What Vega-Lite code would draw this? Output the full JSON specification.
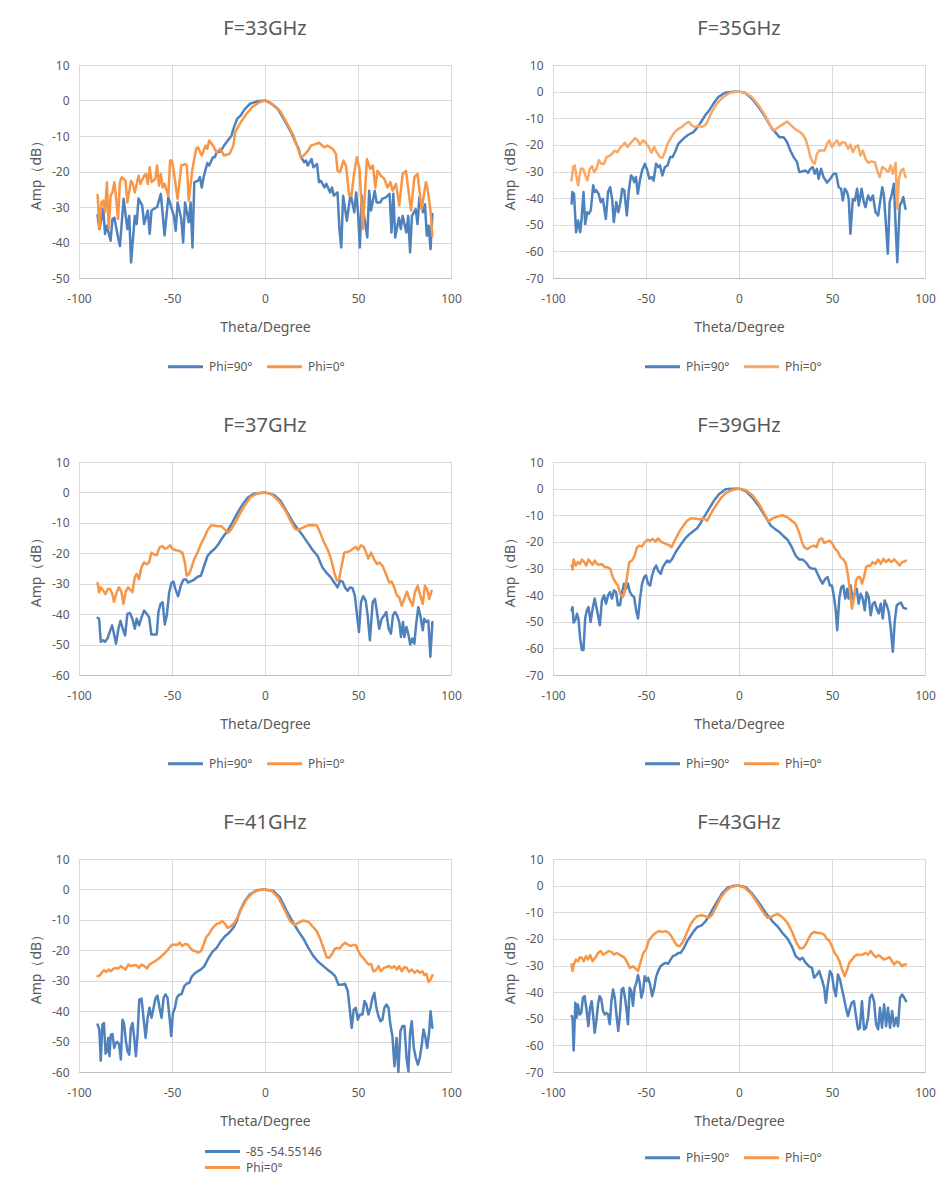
{
  "$schema": "https://vega.github.io/schema/vega-lite/v6.json",
  "background": "white",
  "padding": {"left": 28, "top": 18, "right": 5, "bottom": 5},
  "columns": 2,
  "spacing": {"row": 184, "column": 102},
  "bounds": "flush",
  "datasets": {
    "f33_90": [
      {"theta":-90,"amp":-32.3},{"theta":-89,"amp":-36.2},{"theta":-87,"amp":-30.5},{"theta":-86,"amp":-37.6},{"theta":-85,"amp":-35.3},{"theta":-83,"amp":-39.5},{"theta":-82,"amp":-33.4},{"theta":-81,"amp":-33},{"theta":-79,"amp":-38.6},{"theta":-78,"amp":-41},{"theta":-76,"amp":-27.7},{"theta":-74,"amp":-36.2},{"theta":-73,"amp":-32.5},{"theta":-72,"amp":-45.6},{"theta":-70,"amp":-32.5},{"theta":-69,"amp":-34.8},{"theta":-68,"amp":-27.6},{"theta":-66,"amp":-29.6},{"theta":-65,"amp":-34.8},{"theta":-63,"amp":-31},{"theta":-62,"amp":-37.6},{"theta":-61,"amp":-31},{"theta":-60,"amp":-30.6},{"theta":-58,"amp":-30},{"theta":-56,"amp":-26.3},{"theta":-54,"amp":-38},{"theta":-52,"amp":-27.3},{"theta":-51,"amp":-29},{"theta":-49,"amp":-32.5},{"theta":-48,"amp":-36.7},{"theta":-47,"amp":-28.7},{"theta":-45,"amp":-33.4},{"theta":-44,"amp":-40},{"theta":-43,"amp":-28.7},{"theta":-41,"amp":-34.3},{"theta":-40,"amp":-28.7},{"theta":-39,"amp":-41.4},{"theta":-38,"amp":-23},{"theta":-36,"amp":-22.6},{"theta":-35,"amp":-21.6},{"theta":-34,"amp":-24.5},{"theta":-33,"amp":-21.6},{"theta":-31,"amp":-17.6},{"theta":-30,"amp":-18.3},{"theta":-28,"amp":-16},{"theta":-27,"amp":-16},{"theta":-26,"amp":-14.6},{"theta":-24,"amp":-14.4},{"theta":-22,"amp":-12.7},{"theta":-20,"amp":-11.3},{"theta":-18,"amp":-9.9},{"theta":-17,"amp":-8},{"theta":-15,"amp":-5.2},{"theta":-13,"amp":-4.2},{"theta":-11,"amp":-2.5},{"theta":-8,"amp":-0.9},{"theta":-4,"amp":-0.2},{"theta":0,"amp":0},{"theta":3,"amp":-0.7},{"theta":7,"amp":-2.4},{"theta":10,"amp":-5.2},{"theta":14,"amp":-8.9},{"theta":16,"amp":-11.3},{"theta":18,"amp":-13.5},{"theta":19,"amp":-15.5},{"theta":21,"amp":-17.4},{"theta":22,"amp":-16.9},{"theta":23,"amp":-18.3},{"theta":25,"amp":-16.5},{"theta":26,"amp":-18.8},{"theta":28,"amp":-17.9},{"theta":29,"amp":-23},{"theta":30,"amp":-22.6},{"theta":32,"amp":-24.5},{"theta":33,"amp":-23.5},{"theta":35,"amp":-25.9},{"theta":36,"amp":-24.5},{"theta":37,"amp":-26.8},{"theta":39,"amp":-25.9},{"theta":40,"amp":-36.2},{"theta":41,"amp":-41.4},{"theta":42,"amp":-26.8},{"theta":44,"amp":-33.9},{"theta":45,"amp":-30.1},{"theta":46,"amp":-26.3},{"theta":48,"amp":-31.5},{"theta":49,"amp":-25.9},{"theta":50,"amp":-31.5},{"theta":51,"amp":-41.4},{"theta":52,"amp":-26.8},{"theta":53,"amp":-31.5},{"theta":55,"amp":-38.6},{"theta":56,"amp":-25.4},{"theta":57,"amp":-31},{"theta":59,"amp":-25.4},{"theta":60,"amp":-28.7},{"theta":62,"amp":-28.7},{"theta":63,"amp":-27.7},{"theta":65,"amp":-27.3},{"theta":67,"amp":-26.3},{"theta":68,"amp":-37.2},{"theta":69,"amp":-26.3},{"theta":70,"amp":-38.6},{"theta":72,"amp":-33},{"theta":73,"amp":-36.2},{"theta":74,"amp":-32.5},{"theta":76,"amp":-37.2},{"theta":77,"amp":-32.5},{"theta":78,"amp":-42.8},{"theta":79,"amp":-32.5},{"theta":81,"amp":-30.6},{"theta":82,"amp":-34.8},{"theta":83,"amp":-27.3},{"theta":85,"amp":-31.5},{"theta":86,"amp":-29.2},{"theta":87,"amp":-38.1},{"theta":88,"amp":-35.3},{"theta":89,"amp":-41.9},{"theta":90,"amp":-32}
    ],
    "f33_0": [
      {"theta":-90,"amp":-26.6},{"theta":-89,"amp":-36},{"theta":-88,"amp":-28.7},{"theta":-87,"amp":-28.2},{"theta":-86,"amp":-31.5},{"theta":-85,"amp":-23},{"theta":-84,"amp":-36},{"theta":-83,"amp":-26.8},{"theta":-82,"amp":-25.9},{"theta":-81,"amp":-23},{"theta":-80,"amp":-27.7},{"theta":-79,"amp":-33.4},{"theta":-78,"amp":-23},{"theta":-77,"amp":-21.6},{"theta":-75,"amp":-22.6},{"theta":-74,"amp":-28.7},{"theta":-72,"amp":-22.6},{"theta":-71,"amp":-23.5},{"theta":-70,"amp":-25.9},{"theta":-68,"amp":-21.2},{"theta":-67,"amp":-23.5},{"theta":-65,"amp":-21.2},{"theta":-64,"amp":-20.7},{"theta":-63,"amp":-23.5},{"theta":-62,"amp":-18.8},{"theta":-61,"amp":-23},{"theta":-59,"amp":-22.1},{"theta":-58,"amp":-18.3},{"theta":-57,"amp":-24},{"theta":-56,"amp":-20.7},{"theta":-55,"amp":-24.5},{"theta":-54,"amp":-23.5},{"theta":-52,"amp":-26.8},{"theta":-51,"amp":-16.9},{"theta":-50,"amp":-16.9},{"theta":-49,"amp":-20.2},{"theta":-47,"amp":-27.7},{"theta":-45,"amp":-18.3},{"theta":-43,"amp":-17.9},{"theta":-42,"amp":-18.3},{"theta":-41,"amp":-28.2},{"theta":-39,"amp":-19.3},{"theta":-37,"amp":-13.6},{"theta":-36,"amp":-13.2},{"theta":-34,"amp":-15.5},{"theta":-32,"amp":-12.7},{"theta":-31,"amp":-13.6},{"theta":-30,"amp":-11.3},{"theta":-28,"amp":-12.7},{"theta":-26,"amp":-14.6},{"theta":-24,"amp":-13.6},{"theta":-22,"amp":-15.5},{"theta":-19,"amp":-15},{"theta":-17,"amp":-12.7},{"theta":-16,"amp":-8.9},{"theta":-13,"amp":-6.1},{"theta":-10,"amp":-3.8},{"theta":-7,"amp":-1.9},{"theta":-3,"amp":-0.5},{"theta":0,"amp":0},{"theta":4,"amp":-1.1},{"theta":8.5,"amp":-3.3},{"theta":12,"amp":-6.6},{"theta":15.3,"amp":-9.9},{"theta":17.5,"amp":-13.2},{"theta":19.3,"amp":-16},{"theta":21,"amp":-15.4},{"theta":23.2,"amp":-14.1},{"theta":24.7,"amp":-12.7},{"theta":27.4,"amp":-12.2},{"theta":29.1,"amp":-11.9},{"theta":31.8,"amp":-13.2},{"theta":33.6,"amp":-12.7},{"theta":36.3,"amp":-13.6},{"theta":38.1,"amp":-15},{"theta":39,"amp":-19.8},{"theta":40.4,"amp":-20.2},{"theta":42.2,"amp":-16.9},{"theta":43.5,"amp":-18.3},{"theta":45.3,"amp":-26.8},{"theta":46.5,"amp":-26.8},{"theta":48,"amp":-20.2},{"theta":49.4,"amp":-16},{"theta":50.8,"amp":-19.3},{"theta":52.6,"amp":-36.2},{"theta":54.8,"amp":-16.5},{"theta":56.6,"amp":-19.3},{"theta":58,"amp":-18.3},{"theta":59.3,"amp":-24.5},{"theta":60.5,"amp":-19.8},{"theta":62.3,"amp":-21.2},{"theta":64.1,"amp":-22},{"theta":65.9,"amp":-24.5},{"theta":67.4,"amp":-23},{"theta":68.6,"amp":-25.4},{"theta":70.4,"amp":-23.5},{"theta":72.2,"amp":-29.6},{"theta":74,"amp":-20.7},{"theta":75.8,"amp":-19.8},{"theta":78.5,"amp":-31},{"theta":80.3,"amp":-21.6},{"theta":82,"amp":-20.7},{"theta":84.2,"amp":-30.6},{"theta":86.5,"amp":-23},{"theta":87.4,"amp":-24.9},{"theta":88.9,"amp":-30.6},{"theta":90,"amp":-38.1}
    ],
    "f35_90": [
      {"theta":-90,"amp":-42.1},{"theta":-89.6,"amp":-37.7},{"theta":-88.7,"amp":-38.4},{"theta":-87.6,"amp":-52.8},{"theta":-86.5,"amp":-48.4},{"theta":-85.4,"amp":-52.8},{"theta":-84.7,"amp":-48.4},{"theta":-83.6,"amp":-37.7},{"theta":-82.7,"amp":-49.7},{"theta":-81.6,"amp":-45.3},{"theta":-80.8,"amp":-45.9},{"theta":-79.7,"amp":-44.6},{"theta":-78.4,"amp":-35.2},{"theta":-77.5,"amp":-37.7},{"theta":-76.6,"amp":-37.1},{"theta":-75.5,"amp":-38.4},{"theta":-74.3,"amp":-41.5},{"theta":-73.2,"amp":-40.3},{"theta":-71.6,"amp":-47.8},{"theta":-70.4,"amp":-37.7},{"theta":-69.3,"amp":-35.9},{"theta":-68.2,"amp":-40.3},{"theta":-67.3,"amp":-49},{"theta":-66,"amp":-41.5},{"theta":-64.9,"amp":-45.3},{"theta":-63.9,"amp":-42.1},{"theta":-62.8,"amp":-36.5},{"theta":-61.7,"amp":-37.1},{"theta":-60.3,"amp":-46.5},{"theta":-59.2,"amp":-37.1},{"theta":-58.1,"amp":-31.5},{"theta":-57.2,"amp":-32.1},{"theta":-56.3,"amp":-34},{"theta":-55.4,"amp":-32.1},{"theta":-54.4,"amp":-38.4},{"theta":-53.3,"amp":-33.4},{"theta":-52.1,"amp":-29.6},{"theta":-50.6,"amp":-27.1},{"theta":-49.3,"amp":-29.6},{"theta":-48.2,"amp":-32.7},{"theta":-47,"amp":-32.1},{"theta":-45.9,"amp":-33.4},{"theta":-44.6,"amp":-27.1},{"theta":-43.4,"amp":-28.3},{"theta":-42.5,"amp":-27.7},{"theta":-41.2,"amp":-31.5},{"theta":-39.8,"amp":-28.3},{"theta":-38.4,"amp":-27.7},{"theta":-37,"amp":-24.6},{"theta":-35.7,"amp":-24.6},{"theta":-34.4,"amp":-22.7},{"theta":-32.6,"amp":-19.6},{"theta":-30.8,"amp":-18.3},{"theta":-29,"amp":-17.1},{"theta":-27.2,"amp":-16.2},{"theta":-24.5,"amp":-15.2},{"theta":-22.7,"amp":-13.7},{"theta":-20.4,"amp":-11.4},{"theta":-18.2,"amp":-8.9},{"theta":-16.4,"amp":-7.4},{"theta":-13.7,"amp":-4.5},{"theta":-11.1,"amp":-2},{"theta":-7.5,"amp":-0.4},{"theta":-3,"amp":0},{"theta":0,"amp":0},{"theta":3.3,"amp":-0.4},{"theta":6.9,"amp":-2.6},{"theta":10.5,"amp":-5.8},{"theta":14.1,"amp":-9.5},{"theta":17.7,"amp":-13.9},{"theta":19.5,"amp":-15.2},{"theta":21.7,"amp":-17.1},{"theta":24,"amp":-17.1},{"theta":25.8,"amp":-18.9},{"theta":27.6,"amp":-22.1},{"theta":29.4,"amp":-24.6},{"theta":31.2,"amp":-26.5},{"theta":32.4,"amp":-30.2},{"theta":33.9,"amp":-30},{"theta":35.7,"amp":-29.6},{"theta":37.1,"amp":-30.5},{"theta":38.4,"amp":-29},{"theta":39.6,"amp":-28.3},{"theta":40.7,"amp":-30.8},{"theta":41.9,"amp":-29},{"theta":42.8,"amp":-32.7},{"theta":44.1,"amp":-29},{"theta":45.5,"amp":-32.1},{"theta":47.3,"amp":-34.2},{"theta":49.1,"amp":-32.7},{"theta":50.9,"amp":-30.8},{"theta":52.2,"amp":-30.8},{"theta":53.6,"amp":-35.9},{"theta":54.9,"amp":-36.5},{"theta":55.8,"amp":-40.9},{"theta":56.9,"amp":-36.5},{"theta":58.1,"amp":-37.7},{"theta":59,"amp":-40.3},{"theta":59.9,"amp":-53.4},{"theta":61.2,"amp":-40.3},{"theta":62.3,"amp":-40.9},{"theta":63.5,"amp":-36.5},{"theta":64.4,"amp":-42.8},{"theta":65.9,"amp":-36.5},{"theta":67.1,"amp":-41.5},{"theta":68,"amp":-43.4},{"theta":69.4,"amp":-39},{"theta":70.7,"amp":-40.9},{"theta":72,"amp":-39},{"theta":73.4,"amp":-45.3},{"theta":74.8,"amp":-46.5},{"theta":76.1,"amp":-40.3},{"theta":77,"amp":-35.9},{"theta":77.9,"amp":-39},{"theta":78.8,"amp":-47.8},{"theta":80,"amp":-60.9},{"theta":81,"amp":-41.5},{"theta":82,"amp":-39},{"theta":83.3,"amp":-34.6},{"theta":84.2,"amp":-50.3},{"theta":85.1,"amp":-64.1},{"theta":86.4,"amp":-42.8},{"theta":87.4,"amp":-41.5},{"theta":88.3,"amp":-39.6},{"theta":89.5,"amp":-44}
    ],
    "f35_0": [
      {"theta":-90,"amp":-33.4},{"theta":-89.2,"amp":-28.3},{"theta":-88.3,"amp":-27.7},{"theta":-87.4,"amp":-32.1},{"theta":-86.5,"amp":-35.2},{"theta":-85.1,"amp":-29},{"theta":-83.8,"amp":-29},{"theta":-82.6,"amp":-31.5},{"theta":-81.5,"amp":-33.4},{"theta":-80.2,"amp":-29},{"theta":-79,"amp":-28},{"theta":-77.9,"amp":-30.2},{"theta":-76.6,"amp":-29},{"theta":-75.4,"amp":-25.8},{"theta":-74,"amp":-27.1},{"theta":-72.5,"amp":-27.1},{"theta":-71.2,"amp":-24.6},{"theta":-69.5,"amp":-24},{"theta":-68.2,"amp":-23.3},{"theta":-66.8,"amp":-22.1},{"theta":-65.3,"amp":-22.7},{"theta":-64.1,"amp":-21.2},{"theta":-62.6,"amp":-20.2},{"theta":-61.4,"amp":-19.2},{"theta":-59.9,"amp":-20.8},{"theta":-58.7,"amp":-19.6},{"theta":-57.4,"amp":-18.7},{"theta":-56,"amp":-17.4},{"theta":-54.5,"amp":-18.3},{"theta":-53.3,"amp":-19.9},{"theta":-51.5,"amp":-18.3},{"theta":-50.2,"amp":-19.2},{"theta":-48.8,"amp":-20.4},{"theta":-47,"amp":-22.9},{"theta":-45.6,"amp":-20.8},{"theta":-44.3,"amp":-22.7},{"theta":-42.5,"amp":-24.6},{"theta":-41.2,"amp":-24.9},{"theta":-39.8,"amp":-22.7},{"theta":-38.4,"amp":-19.6},{"theta":-36.6,"amp":-17.4},{"theta":-34.8,"amp":-15.4},{"theta":-33,"amp":-14.2},{"theta":-30.8,"amp":-13.3},{"theta":-28.7,"amp":-12},{"theta":-26.9,"amp":-11.4},{"theta":-25.4,"amp":-12.7},{"theta":-23.6,"amp":-13.3},{"theta":-21.8,"amp":-12.7},{"theta":-20,"amp":-13.3},{"theta":-17.9,"amp":-12.4},{"theta":-16.4,"amp":-10.4},{"theta":-14.6,"amp":-7.6},{"theta":-11.9,"amp":-4.5},{"theta":-8.4,"amp":-2},{"theta":-4.8,"amp":-0.4},{"theta":0,"amp":0},{"theta":3.3,"amp":-0.4},{"theta":6.9,"amp":-2},{"theta":10.5,"amp":-5.1},{"theta":14.1,"amp":-8.9},{"theta":17.3,"amp":-13.3},{"theta":19.1,"amp":-14.5},{"theta":21.3,"amp":-13.3},{"theta":23.4,"amp":-12.4},{"theta":25.8,"amp":-11.2},{"theta":27.6,"amp":-12.4},{"theta":29.9,"amp":-13.9},{"theta":32.1,"amp":-14.9},{"theta":33.9,"amp":-15.8},{"theta":35.7,"amp":-17.7},{"theta":37.1,"amp":-20.8},{"theta":38.4,"amp":-24.6},{"theta":39.6,"amp":-26.5},{"theta":40.7,"amp":-27.1},{"theta":41.9,"amp":-23.3},{"theta":43.2,"amp":-22.1},{"theta":44.6,"amp":-22.1},{"theta":46.1,"amp":-22.1},{"theta":47.3,"amp":-19.6},{"theta":48.6,"amp":-18.3},{"theta":50,"amp":-20.8},{"theta":51.5,"amp":-19.2},{"theta":52.7,"amp":-18.3},{"theta":54,"amp":-20.2},{"theta":55.4,"amp":-19},{"theta":57.2,"amp":-19.2},{"theta":58.7,"amp":-21.4},{"theta":59.9,"amp":-19.9},{"theta":61.2,"amp":-22.7},{"theta":62.6,"amp":-20.8},{"theta":64,"amp":-20.2},{"theta":65.3,"amp":-24},{"theta":66.6,"amp":-22.1},{"theta":68,"amp":-25.2},{"theta":69.4,"amp":-26.7},{"theta":71.2,"amp":-26.2},{"theta":73,"amp":-26.5},{"theta":74.3,"amp":-29.6},{"theta":75.6,"amp":-32.1},{"theta":77,"amp":-28.3},{"theta":78.4,"amp":-29},{"theta":80.2,"amp":-30.2},{"theta":81.5,"amp":-27.7},{"theta":82.7,"amp":-30.8},{"theta":84.2,"amp":-26.7},{"theta":85.1,"amp":-44},{"theta":86,"amp":-32.7},{"theta":87.2,"amp":-29.6},{"theta":88.3,"amp":-29},{"theta":89.6,"amp":-32.1}
    ],
    "f37_90": [
      {"theta":-90,"amp":-41.2},{"theta":-89.2,"amp":-41.5},{"theta":-88.3,"amp":-49.1},{"theta":-87.1,"amp":-48.6},{"theta":-86,"amp":-49.1},{"theta":-84.7,"amp":-48},{"theta":-83.5,"amp":-45.9},{"theta":-82.2,"amp":-43.7},{"theta":-81.4,"amp":-45.9},{"theta":-80.1,"amp":-49.7},{"theta":-78.8,"amp":-44.8},{"theta":-77.7,"amp":-42.2},{"theta":-76.7,"amp":-44.3},{"theta":-75.2,"amp":-47},{"theta":-74,"amp":-39.9},{"theta":-72.6,"amp":-39.6},{"theta":-71.3,"amp":-41.5},{"theta":-70,"amp":-44.8},{"theta":-69,"amp":-41.5},{"theta":-67.7,"amp":-43.7},{"theta":-66.5,"amp":-41.3},{"theta":-65,"amp":-38.8},{"theta":-63.6,"amp":-39.9},{"theta":-62.3,"amp":-41},{"theta":-61.1,"amp":-46.7},{"theta":-59.6,"amp":-46.7},{"theta":-58.2,"amp":-46.7},{"theta":-57.3,"amp":-39.3},{"theta":-56.1,"amp":-36.6},{"theta":-55,"amp":-36.1},{"theta":-53.9,"amp":-43.4},{"theta":-52.8,"amp":-40.4},{"theta":-51.5,"amp":-32.8},{"theta":-50.3,"amp":-29.8},{"theta":-49.2,"amp":-29.3},{"theta":-48.2,"amp":-31.7},{"theta":-46.7,"amp":-34.1},{"theta":-45.3,"amp":-30.7},{"theta":-43.9,"amp":-28.7},{"theta":-42.6,"amp":-28.5},{"theta":-41.4,"amp":-29.6},{"theta":-39.9,"amp":-29.2},{"theta":-38.1,"amp":-28.7},{"theta":-36.3,"amp":-27.7},{"theta":-34.5,"amp":-27.4},{"theta":-32.7,"amp":-24.1},{"theta":-30.9,"amp":-20.9},{"theta":-29.1,"amp":-19.6},{"theta":-27,"amp":-18.5},{"theta":-25.2,"amp":-17.1},{"theta":-22.9,"amp":-14.9},{"theta":-20.2,"amp":-12.7},{"theta":-17.5,"amp":-9.8},{"theta":-14.8,"amp":-6.7},{"theta":-12.1,"amp":-4},{"theta":-9.4,"amp":-1.8},{"theta":-5.8,"amp":-0.4},{"theta":0,"amp":0},{"theta":4.9,"amp":-0.8},{"theta":8.5,"amp":-2.9},{"theta":12.1,"amp":-6.7},{"theta":15.7,"amp":-10.5},{"theta":19.3,"amp":-13.3},{"theta":22.9,"amp":-16.5},{"theta":25.6,"amp":-18.9},{"theta":28.3,"amp":-20.9},{"theta":30.9,"amp":-24.7},{"theta":33.6,"amp":-26.8},{"theta":35.4,"amp":-27.9},{"theta":37.2,"amp":-29.6},{"theta":39,"amp":-31.2},{"theta":40.4,"amp":-29},{"theta":41.7,"amp":-29.3},{"theta":43,"amp":-31.2},{"theta":44.4,"amp":-32.3},{"theta":45.7,"amp":-31.2},{"theta":47.1,"amp":-31.5},{"theta":48.3,"amp":-33.9},{"theta":49.4,"amp":-39.9},{"theta":50.5,"amp":-45.9},{"theta":51.6,"amp":-36.1},{"theta":52.8,"amp":-34.1},{"theta":54.1,"amp":-35.5},{"theta":55.2,"amp":-40.4},{"theta":56.4,"amp":-48.6},{"theta":57.9,"amp":-36.1},{"theta":59.1,"amp":-35},{"theta":60.2,"amp":-39.3},{"theta":61.4,"amp":-44.8},{"theta":62.7,"amp":-41.5},{"theta":64.1,"amp":-40.4},{"theta":65.2,"amp":-39.3},{"theta":66.5,"amp":-44.8},{"theta":67.7,"amp":-46.4},{"theta":68.8,"amp":-40.4},{"theta":69.9,"amp":-39.3},{"theta":71,"amp":-40.4},{"theta":72.2,"amp":-42.6},{"theta":73.1,"amp":-47.5},{"theta":74.2,"amp":-42.6},{"theta":74.9,"amp":-47.5},{"theta":76,"amp":-44.2},{"theta":77,"amp":-46.4},{"theta":78.1,"amp":-50},{"theta":79.2,"amp":-48},{"theta":80.3,"amp":-49.7},{"theta":81.2,"amp":-43.7},{"theta":82.4,"amp":-37.7},{"theta":83.5,"amp":-40.4},{"theta":84.8,"amp":-45.3},{"theta":85.6,"amp":-41.5},{"theta":86.7,"amp":-42.6},{"theta":87.8,"amp":-42.1},{"theta":88.9,"amp":-54},{"theta":90,"amp":-42.6}
    ],
    "f37_0": [
      {"theta":-90,"amp":-29.8},{"theta":-89.2,"amp":-32.8},{"theta":-88.3,"amp":-31.2},{"theta":-86.9,"amp":-32.3},{"theta":-85.8,"amp":-33.4},{"theta":-84.4,"amp":-31.7},{"theta":-83.3,"amp":-31.7},{"theta":-82.1,"amp":-33.4},{"theta":-81.2,"amp":-35.9},{"theta":-79.7,"amp":-32.8},{"theta":-78.5,"amp":-31.2},{"theta":-77.2,"amp":-32.6},{"theta":-76.1,"amp":-36.6},{"theta":-74.9,"amp":-32.6},{"theta":-73.6,"amp":-31.2},{"theta":-72.6,"amp":-31.9},{"theta":-71.3,"amp":-32.8},{"theta":-70,"amp":-27.9},{"theta":-69,"amp":-26.8},{"theta":-67.7,"amp":-28.5},{"theta":-66.5,"amp":-24.7},{"theta":-65,"amp":-23},{"theta":-63.6,"amp":-23.6},{"theta":-62.3,"amp":-23},{"theta":-61.1,"amp":-19.8},{"theta":-59.6,"amp":-20.4},{"theta":-58.2,"amp":-20.7},{"theta":-56.8,"amp":-18.2},{"theta":-55.3,"amp":-17.6},{"theta":-53.9,"amp":-18.5},{"theta":-52.5,"amp":-18.2},{"theta":-51,"amp":-17.4},{"theta":-49.8,"amp":-18.5},{"theta":-48,"amp":-19},{"theta":-46.2,"amp":-19.2},{"theta":-44.4,"amp":-19.8},{"theta":-43.1,"amp":-23},{"theta":-42.1,"amp":-27.4},{"theta":-40.8,"amp":-26.8},{"theta":-39.5,"amp":-24.7},{"theta":-38.1,"amp":-22},{"theta":-36.3,"amp":-19.8},{"theta":-34.5,"amp":-17.1},{"theta":-32.7,"amp":-14.9},{"theta":-30.9,"amp":-12.4},{"theta":-29.1,"amp":-10.9},{"theta":-27.4,"amp":-10.9},{"theta":-25.6,"amp":-11.1},{"theta":-23.4,"amp":-11.1},{"theta":-21.6,"amp":-12.2},{"theta":-19.8,"amp":-13.3},{"theta":-18,"amp":-12},{"theta":-15.7,"amp":-9.5},{"theta":-13,"amp":-6.5},{"theta":-10.3,"amp":-3.7},{"theta":-7.6,"amp":-1.5},{"theta":-4,"amp":-0.3},{"theta":0,"amp":0},{"theta":4,"amp":-0.8},{"theta":7.6,"amp":-2.9},{"theta":11.2,"amp":-6.2},{"theta":13.9,"amp":-9.5},{"theta":16.1,"amp":-12},{"theta":17.8,"amp":-12.4},{"theta":20.2,"amp":-11.6},{"theta":22.9,"amp":-10.9},{"theta":25.6,"amp":-10.7},{"theta":27.9,"amp":-10.9},{"theta":29.7,"amp":-13.3},{"theta":31.8,"amp":-16.5},{"theta":34,"amp":-19.2},{"theta":35.8,"amp":-22.5},{"theta":37.2,"amp":-26.3},{"theta":38.7,"amp":-29},{"theta":39.9,"amp":-28.5},{"theta":41.2,"amp":-24.1},{"theta":42.6,"amp":-19.8},{"theta":44,"amp":-19.6},{"theta":45.8,"amp":-19.2},{"theta":47.3,"amp":-18.5},{"theta":48.9,"amp":-17.9},{"theta":50.1,"amp":-18.9},{"theta":51.6,"amp":-17.4},{"theta":53,"amp":-17.8},{"theta":54.4,"amp":-19.8},{"theta":55.5,"amp":-21.7},{"theta":57,"amp":-19.8},{"theta":58.7,"amp":-22},{"theta":60.2,"amp":-23.6},{"theta":61.4,"amp":-23},{"theta":63.2,"amp":-24.1},{"theta":65,"amp":-26.8},{"theta":66.8,"amp":-29.6},{"theta":68.1,"amp":-29.3},{"theta":69.5,"amp":-31.2},{"theta":70.9,"amp":-33.9},{"theta":72.2,"amp":-34.5},{"theta":73.5,"amp":-37.2},{"theta":74.9,"amp":-35},{"theta":76.3,"amp":-32.6},{"theta":77.6,"amp":-35},{"theta":79.4,"amp":-37.2},{"theta":80.6,"amp":-32.8},{"theta":82.1,"amp":-30.7},{"theta":83.5,"amp":-33.9},{"theta":84.8,"amp":-36.6},{"theta":86,"amp":-30.7},{"theta":87.1,"amp":-31.7},{"theta":88.3,"amp":-35},{"theta":89.6,"amp":-32.3}
    ],
    "f39_90": [
      {"theta":-90,"amp":-45.7},{"theta":-89.5,"amp":-44.5},{"theta":-88.9,"amp":-50.3},{"theta":-88,"amp":-49.4},{"theta":-87.1,"amp":-47},{"theta":-86.3,"amp":-48.8},{"theta":-85.4,"amp":-56.3},{"theta":-84.5,"amp":-60.6},{"theta":-83.6,"amp":-60.6},{"theta":-82.7,"amp":-48.8},{"theta":-81.8,"amp":-45.7},{"theta":-80.9,"amp":-44.5},{"theta":-79.8,"amp":-50.1},{"theta":-78.7,"amp":-45.1},{"theta":-77.6,"amp":-41.3},{"theta":-76.7,"amp":-44.5},{"theta":-75.8,"amp":-47.6},{"theta":-74.8,"amp":-51.3},{"theta":-73.7,"amp":-42},{"theta":-72.6,"amp":-40.1},{"theta":-71.5,"amp":-43.2},{"theta":-70.4,"amp":-40.1},{"theta":-69.4,"amp":-38.9},{"theta":-68.3,"amp":-41.3},{"theta":-67.2,"amp":-38.2},{"theta":-66.1,"amp":-38.9},{"theta":-65.1,"amp":-43.8},{"theta":-64,"amp":-43.8},{"theta":-62.9,"amp":-38.9},{"theta":-61.8,"amp":-35.7},{"theta":-60.7,"amp":-37.6},{"theta":-59.7,"amp":-35.7},{"theta":-58.6,"amp":-38.9},{"theta":-57.5,"amp":-40.1},{"theta":-56.4,"amp":-40.7},{"theta":-55.3,"amp":-45.7},{"theta":-54.3,"amp":-48.8},{"theta":-53.2,"amp":-41.3},{"theta":-52.1,"amp":-35.7},{"theta":-51,"amp":-33.2},{"theta":-50,"amp":-32.6},{"theta":-48.9,"amp":-35.7},{"theta":-47.8,"amp":-36.4},{"theta":-46.7,"amp":-32.6},{"theta":-45.6,"amp":-30.1},{"theta":-44.5,"amp":-28.9},{"theta":-43.5,"amp":-30.8},{"theta":-42,"amp":-32},{"theta":-41,"amp":-29.5},{"theta":-39.9,"amp":-28.3},{"theta":-38.6,"amp":-27},{"theta":-37.4,"amp":-27.6},{"theta":-35.9,"amp":-26.4},{"theta":-34.1,"amp":-23.9},{"theta":-32.3,"amp":-22},{"theta":-30.5,"amp":-20.2},{"theta":-28.4,"amp":-18.3},{"theta":-26.6,"amp":-17.1},{"theta":-24.3,"amp":-15.8},{"theta":-22.5,"amp":-14.9},{"theta":-20.7,"amp":-13},{"theta":-18.9,"amp":-10.8},{"theta":-16.2,"amp":-7.7},{"theta":-13.5,"amp":-4.6},{"theta":-10.8,"amp":-2.1},{"theta":-7.2,"amp":-0.2},{"theta":-3.6,"amp":0},{"theta":0,"amp":0},{"theta":3.6,"amp":-0.9},{"theta":7.2,"amp":-3.4},{"theta":10.8,"amp":-6.7},{"theta":14.4,"amp":-10.8},{"theta":17.1,"amp":-13.9},{"theta":19.8,"amp":-15.4},{"theta":21.9,"amp":-16.4},{"theta":23.7,"amp":-17.7},{"theta":26.1,"amp":-19.2},{"theta":28.4,"amp":-22},{"theta":30.5,"amp":-25.2},{"theta":32.3,"amp":-26.6},{"theta":34.1,"amp":-26.6},{"theta":35.9,"amp":-27.6},{"theta":37.7,"amp":-29.5},{"theta":39.5,"amp":-30.1},{"theta":41,"amp":-30.1},{"theta":42.2,"amp":-32},{"theta":43.5,"amp":-33.9},{"theta":44.9,"amp":-35.7},{"theta":46.4,"amp":-33.9},{"theta":47.6,"amp":-33.2},{"theta":48.9,"amp":-36.4},{"theta":50,"amp":-36.4},{"theta":51.2,"amp":-41.3},{"theta":52.1,"amp":-46.3},{"theta":52.8,"amp":-53.2},{"theta":53.9,"amp":-41.3},{"theta":55,"amp":-37},{"theta":56.1,"amp":-36.4},{"theta":57.1,"amp":-41.3},{"theta":58.2,"amp":-37.6},{"theta":58.9,"amp":-41.3},{"theta":60,"amp":-36.4},{"theta":61.1,"amp":-42},{"theta":62.2,"amp":-39.5},{"theta":63.3,"amp":-37.6},{"theta":64.3,"amp":-43.2},{"theta":65.4,"amp":-39.5},{"theta":66.5,"amp":-41.3},{"theta":67.6,"amp":-45.7},{"theta":68.6,"amp":-38.9},{"theta":69.7,"amp":-40.7},{"theta":70.8,"amp":-47.6},{"theta":71.9,"amp":-43.2},{"theta":73,"amp":-42.6},{"theta":74,"amp":-45.1},{"theta":75.1,"amp":-46.9},{"theta":76.2,"amp":-43.2},{"theta":77.3,"amp":-48.8},{"theta":78.3,"amp":-42},{"theta":79.4,"amp":-43.8},{"theta":80.5,"amp":-46.3},{"theta":81.6,"amp":-52.6},{"theta":82.7,"amp":-61.3},{"theta":83.7,"amp":-50.1},{"theta":84.8,"amp":-43.8},{"theta":85.9,"amp":-43.2},{"theta":87.1,"amp":-42.8},{"theta":88.4,"amp":-44.8},{"theta":89.8,"amp":-45.1}
    ],
    "f39_0": [
      {"theta":-90,"amp":-28.9},{"theta":-89.5,"amp":-30.4},{"theta":-88.9,"amp":-26.6},{"theta":-87.7,"amp":-28.9},{"theta":-86.6,"amp":-27.6},{"theta":-85.5,"amp":-28.3},{"theta":-84.5,"amp":-26.6},{"theta":-83.2,"amp":-27.6},{"theta":-82.1,"amp":-28.9},{"theta":-80.9,"amp":-26.6},{"theta":-79.8,"amp":-27.6},{"theta":-78.7,"amp":-28.6},{"theta":-77.6,"amp":-27},{"theta":-76.4,"amp":-28.3},{"theta":-75.1,"amp":-28.6},{"theta":-73.7,"amp":-28.3},{"theta":-72.2,"amp":-29.5},{"theta":-70.8,"amp":-29.5},{"theta":-69.2,"amp":-30.1},{"theta":-67.9,"amp":-33.2},{"theta":-66.5,"amp":-35.1},{"theta":-65.1,"amp":-36.4},{"theta":-63.8,"amp":-39.5},{"theta":-62.5,"amp":-40.7},{"theta":-61.5,"amp":-38.9},{"theta":-60.2,"amp":-33.2},{"theta":-59,"amp":-27.6},{"theta":-57.5,"amp":-27},{"theta":-56.1,"amp":-25.2},{"theta":-54.8,"amp":-22},{"theta":-53.5,"amp":-21.4},{"theta":-52.1,"amp":-21.7},{"theta":-50.7,"amp":-20.2},{"theta":-49.2,"amp":-19.2},{"theta":-47.8,"amp":-19.6},{"theta":-46.4,"amp":-18.9},{"theta":-44.9,"amp":-19.9},{"theta":-43.5,"amp":-18.7},{"theta":-42,"amp":-19.9},{"theta":-40.6,"amp":-20.4},{"theta":-39.2,"amp":-20.8},{"theta":-37.7,"amp":-21.2},{"theta":-36.3,"amp":-22},{"theta":-34.9,"amp":-19.9},{"theta":-33.2,"amp":-17.7},{"theta":-31.4,"amp":-15.4},{"theta":-29.6,"amp":-13.7},{"theta":-27.9,"amp":-12.1},{"theta":-26.1,"amp":-11.2},{"theta":-23.7,"amp":-11.2},{"theta":-21.6,"amp":-11.5},{"theta":-18.9,"amp":-11.2},{"theta":-17.1,"amp":-12.1},{"theta":-15.3,"amp":-9.6},{"theta":-12.6,"amp":-6.5},{"theta":-9.9,"amp":-3.7},{"theta":-7.2,"amp":-1.7},{"theta":-3.6,"amp":-0.5},{"theta":0,"amp":0},{"theta":3.6,"amp":-0.5},{"theta":7.2,"amp":-2.5},{"theta":10.8,"amp":-5.8},{"theta":13.5,"amp":-9.2},{"theta":15.8,"amp":-12.3},{"theta":18,"amp":-11.2},{"theta":20.7,"amp":-10.5},{"theta":23.4,"amp":-10},{"theta":26.1,"amp":-10.8},{"theta":28.4,"amp":-12.1},{"theta":30.5,"amp":-13.3},{"theta":32.3,"amp":-16.4},{"theta":33.8,"amp":-19.9},{"theta":35,"amp":-22},{"theta":36.8,"amp":-22.7},{"theta":38.6,"amp":-21.8},{"theta":40.4,"amp":-21.4},{"theta":41.7,"amp":-22},{"theta":43.1,"amp":-19.2},{"theta":44.6,"amp":-18.7},{"theta":45.8,"amp":-20.4},{"theta":47.6,"amp":-19.9},{"theta":48.9,"amp":-19.6},{"theta":50.3,"amp":-20.8},{"theta":51.8,"amp":-22.7},{"theta":53.2,"amp":-23.7},{"theta":54.6,"amp":-25.8},{"theta":56.1,"amp":-26.6},{"theta":57.5,"amp":-28.3},{"theta":58.6,"amp":-32.6},{"theta":59.7,"amp":-38.9},{"theta":60.7,"amp":-45.1},{"theta":61.8,"amp":-41.3},{"theta":62.9,"amp":-34.5},{"theta":64,"amp":-33.2},{"theta":65,"amp":-33.2},{"theta":66.1,"amp":-35.7},{"theta":67.2,"amp":-33.2},{"theta":68.3,"amp":-29.5},{"theta":69.4,"amp":-28.9},{"theta":70.4,"amp":-29.1},{"theta":71.9,"amp":-27.6},{"theta":73.3,"amp":-28.3},{"theta":74.8,"amp":-26.6},{"theta":76.2,"amp":-28.3},{"theta":77.6,"amp":-26.4},{"theta":79.1,"amp":-27.6},{"theta":80.5,"amp":-26.6},{"theta":81.9,"amp":-27.6},{"theta":83.4,"amp":-26.6},{"theta":84.8,"amp":-27.6},{"theta":86.3,"amp":-28.9},{"theta":87.7,"amp":-27.6},{"theta":88.9,"amp":-27.4},{"theta":89.8,"amp":-27}
    ],
    "f41_90": [
      {"theta":-90,"amp":-44.4},{"theta":-89.1,"amp":-46},{"theta":-88.3,"amp":-56.3},{"theta":-87.4,"amp":-44.4},{"theta":-86.6,"amp":-43.9},{"theta":-85.7,"amp":-54},{"theta":-85,"amp":-53.2},{"theta":-84.3,"amp":-48.8},{"theta":-83.6,"amp":-54.8},{"theta":-82.9,"amp":-47.7},{"theta":-82,"amp":-47.5},{"theta":-81.1,"amp":-52.1},{"theta":-80.2,"amp":-50.4},{"theta":-79.3,"amp":-50.1},{"theta":-78.4,"amp":-51},{"theta":-77.5,"amp":-55.9},{"theta":-76.6,"amp":-42.8},{"theta":-75.7,"amp":-44.4},{"theta":-74.8,"amp":-49.9},{"theta":-73.9,"amp":-53.2},{"theta":-73,"amp":-54.3},{"theta":-72.1,"amp":-45.5},{"theta":-71.2,"amp":-43.9},{"theta":-70.3,"amp":-48.8},{"theta":-69.4,"amp":-54.8},{"theta":-68.5,"amp":-47.7},{"theta":-67.6,"amp":-36.2},{"theta":-66.4,"amp":-35.9},{"theta":-65.3,"amp":-42.2},{"theta":-64.2,"amp":-48.8},{"theta":-63.1,"amp":-42.2},{"theta":-62.1,"amp":-38.9},{"theta":-61,"amp":-42.2},{"theta":-59.9,"amp":-38.9},{"theta":-58.8,"amp":-35.6},{"theta":-57.8,"amp":-34.9},{"theta":-56.7,"amp":-38.9},{"theta":-55.6,"amp":-42.2},{"theta":-54.5,"amp":-35.6},{"theta":-53.5,"amp":-34.5},{"theta":-52.4,"amp":-35.6},{"theta":-51.3,"amp":-42.2},{"theta":-50.4,"amp":-48.2},{"theta":-49.5,"amp":-40.6},{"theta":-48.4,"amp":-38.9},{"theta":-47.4,"amp":-35.6},{"theta":-46.3,"amp":-34.7},{"theta":-44.8,"amp":-34.3},{"theta":-43.4,"amp":-31.8},{"theta":-42.2,"amp":-31},{"theta":-40.7,"amp":-30.7},{"theta":-39.5,"amp":-28.8},{"theta":-38,"amp":-27.7},{"theta":-36.2,"amp":-26.9},{"theta":-34.4,"amp":-26.3},{"theta":-32.6,"amp":-25.2},{"theta":-30.5,"amp":-22.7},{"theta":-28.3,"amp":-20.5},{"theta":-26,"amp":-19.2},{"theta":-23.7,"amp":-17},{"theta":-21.5,"amp":-15.4},{"theta":-19.4,"amp":-14.3},{"theta":-17,"amp":-12.6},{"theta":-15.2,"amp":-10.4},{"theta":-13.5,"amp":-7.1},{"theta":-10.8,"amp":-3.8},{"theta":-8.1,"amp":-1.6},{"theta":-4.5,"amp":-0.3},{"theta":0,"amp":0},{"theta":4.5,"amp":-0.5},{"theta":8.1,"amp":-2.7},{"theta":11.7,"amp":-7.1},{"theta":15.2,"amp":-11},{"theta":17.9,"amp":-13.7},{"theta":20.6,"amp":-16.1},{"theta":23.3,"amp":-19.2},{"theta":26,"amp":-21.9},{"theta":28.7,"amp":-23.8},{"theta":31.4,"amp":-25.2},{"theta":34.1,"amp":-26.6},{"theta":35.9,"amp":-27.4},{"theta":37.7,"amp":-28.5},{"theta":39.5,"amp":-31.3},{"theta":41.3,"amp":-31.3},{"theta":43,"amp":-31},{"theta":44.5,"amp":-33.4},{"theta":45.6,"amp":-39.5},{"theta":46.6,"amp":-45.5},{"theta":47.7,"amp":-39.5},{"theta":48.8,"amp":-38.9},{"theta":49.9,"amp":-42.8},{"theta":51.1,"amp":-41.1},{"theta":52.4,"amp":-41.1},{"theta":53.5,"amp":-36.7},{"theta":54.5,"amp":-37.8},{"theta":55.6,"amp":-41.1},{"theta":56.7,"amp":-38.9},{"theta":57.8,"amp":-35.6},{"theta":58.8,"amp":-34},{"theta":59.9,"amp":-38.9},{"theta":61,"amp":-41.7},{"theta":62.1,"amp":-43.3},{"theta":63.1,"amp":-42.8},{"theta":64.2,"amp":-38.9},{"theta":65.3,"amp":-37.8},{"theta":66.4,"amp":-38.9},{"theta":67.4,"amp":-44.4},{"theta":68.5,"amp":-48.2},{"theta":69.6,"amp":-58.1},{"theta":70.7,"amp":-48.8},{"theta":71.7,"amp":-60},{"theta":72.8,"amp":-46.6},{"theta":73.9,"amp":-44.9},{"theta":75,"amp":-44.9},{"theta":76.1,"amp":-55.4},{"theta":77.1,"amp":-59.8},{"theta":78,"amp":-47.1},{"theta":78.9,"amp":-43.3},{"theta":80,"amp":-52.1},{"theta":81.1,"amp":-55.4},{"theta":82.2,"amp":-57.6},{"theta":83.2,"amp":-55.4},{"theta":84.3,"amp":-51},{"theta":85.2,"amp":-46},{"theta":86.1,"amp":-48.2},{"theta":87.2,"amp":-52.1},{"theta":88.3,"amp":-46.6},{"theta":89,"amp":-40},{"theta":90,"amp":-45.5}
    ],
    "f41_0": [
      {"theta":-90,"amp":-28.5},{"theta":-88.7,"amp":-28.2},{"theta":-87.5,"amp":-27.1},{"theta":-86.4,"amp":-26.6},{"theta":-85.2,"amp":-27.1},{"theta":-83.9,"amp":-26.3},{"theta":-82.9,"amp":-26.9},{"theta":-81.6,"amp":-26.1},{"theta":-80.4,"amp":-25.8},{"theta":-79,"amp":-26},{"theta":-77.5,"amp":-25.2},{"theta":-76.2,"amp":-25.8},{"theta":-75,"amp":-26.3},{"theta":-73.5,"amp":-24.7},{"theta":-72.1,"amp":-25.2},{"theta":-70.7,"amp":-24.9},{"theta":-69.2,"amp":-24.9},{"theta":-67.8,"amp":-25.8},{"theta":-66.4,"amp":-24.7},{"theta":-64.9,"amp":-25.2},{"theta":-63.5,"amp":-26},{"theta":-62.1,"amp":-24.7},{"theta":-60.6,"amp":-24.1},{"theta":-59.2,"amp":-23.6},{"theta":-57.8,"amp":-23},{"theta":-56.3,"amp":-22.3},{"theta":-54.7,"amp":-21.4},{"theta":-53.3,"amp":-20.5},{"theta":-51.7,"amp":-19.4},{"theta":-50.2,"amp":-18.3},{"theta":-48.8,"amp":-18.1},{"theta":-47.4,"amp":-18.3},{"theta":-45.9,"amp":-17.5},{"theta":-44.5,"amp":-18.6},{"theta":-43,"amp":-17.9},{"theta":-41.6,"amp":-18.1},{"theta":-40.2,"amp":-19.2},{"theta":-38.7,"amp":-20.1},{"theta":-37.3,"amp":-20.3},{"theta":-35.9,"amp":-20.8},{"theta":-34.4,"amp":-20.3},{"theta":-33,"amp":-18.1},{"theta":-31.6,"amp":-15.7},{"theta":-30.1,"amp":-14.6},{"theta":-28.7,"amp":-13.2},{"theta":-27.3,"amp":-12.1},{"theta":-25.8,"amp":-11.3},{"theta":-24.2,"amp":-11},{"theta":-23,"amp":-10.4},{"theta":-21.5,"amp":-11.3},{"theta":-20.1,"amp":-12.6},{"theta":-18.3,"amp":-12.1},{"theta":-16.5,"amp":-11},{"theta":-14.7,"amp":-9.1},{"theta":-12.6,"amp":-6.2},{"theta":-9.9,"amp":-3.3},{"theta":-7.2,"amp":-1.4},{"theta":-3.6,"amp":-0.2},{"theta":0,"amp":0},{"theta":3.6,"amp":-0.5},{"theta":7.2,"amp":-2.7},{"theta":10.8,"amp":-7.1},{"theta":13.5,"amp":-10.4},{"theta":15.8,"amp":-11.7},{"theta":17.9,"amp":-11},{"theta":20.6,"amp":-10.2},{"theta":23.3,"amp":-10.6},{"theta":25.5,"amp":-12.1},{"theta":27.8,"amp":-13.7},{"theta":29.6,"amp":-16.1},{"theta":31.4,"amp":-19.2},{"theta":33.2,"amp":-22.3},{"theta":34.4,"amp":-22.5},{"theta":35.9,"amp":-21.4},{"theta":37.3,"amp":-19.7},{"theta":38.7,"amp":-19.2},{"theta":40.2,"amp":-19.4},{"theta":41.6,"amp":-18.3},{"theta":43,"amp":-17.5},{"theta":44.5,"amp":-18.1},{"theta":45.9,"amp":-18.6},{"theta":47.4,"amp":-18.3},{"theta":48.8,"amp":-18.3},{"theta":50.2,"amp":-20.3},{"theta":51.7,"amp":-21.9},{"theta":52.9,"amp":-22.5},{"theta":54.2,"amp":-23.6},{"theta":55.6,"amp":-24.7},{"theta":57,"amp":-24.5},{"theta":58.3,"amp":-26.9},{"theta":59.6,"amp":-26.6},{"theta":61,"amp":-25.2},{"theta":62.4,"amp":-26.9},{"theta":63.9,"amp":-25.8},{"theta":65.3,"amp":-25.5},{"theta":66.7,"amp":-25.2},{"theta":68.2,"amp":-25.8},{"theta":69.6,"amp":-25.2},{"theta":70.9,"amp":-26.3},{"theta":72.1,"amp":-25.2},{"theta":73.5,"amp":-26.9},{"theta":75,"amp":-25.5},{"theta":76.2,"amp":-25.8},{"theta":77.5,"amp":-27.1},{"theta":78.9,"amp":-26.3},{"theta":80.4,"amp":-27.4},{"theta":81.8,"amp":-26.6},{"theta":83.2,"amp":-27.4},{"theta":84.7,"amp":-26.9},{"theta":85.7,"amp":-28.2},{"theta":86.8,"amp":-27.7},{"theta":87.9,"amp":-30.4},{"theta":89,"amp":-29.6},{"theta":90,"amp":-28.2}
    ],
    "f43_90": [
      {"theta":-90,"amp":-49},{"theta":-89.5,"amp":-49.6},{"theta":-88.9,"amp":-61.9},{"theta":-88,"amp":-44},{"theta":-87.3,"amp":-49.6},{"theta":-86.6,"amp":-44.6},{"theta":-85.7,"amp":-48.4},{"theta":-84.8,"amp":-47.8},{"theta":-83.9,"amp":-42.1},{"theta":-83,"amp":-41.5},{"theta":-81.9,"amp":-47.1},{"theta":-81,"amp":-52.8},{"theta":-80.1,"amp":-45.9},{"theta":-79.2,"amp":-43.4},{"theta":-78.3,"amp":-49.6},{"theta":-77.6,"amp":-55.3},{"theta":-76.7,"amp":-50.9},{"theta":-75.8,"amp":-44.6},{"theta":-74.9,"amp":-41.5},{"theta":-74,"amp":-42.8},{"theta":-73.1,"amp":-47.1},{"theta":-72.2,"amp":-48.4},{"theta":-71.3,"amp":-47.8},{"theta":-70.4,"amp":-48.4},{"theta":-69.5,"amp":-52.1},{"theta":-68.6,"amp":-43.4},{"theta":-67.7,"amp":-39},{"theta":-66.8,"amp":-42.1},{"theta":-65.9,"amp":-48.4},{"theta":-64.9,"amp":-54.6},{"theta":-64,"amp":-48.4},{"theta":-63.1,"amp":-39},{"theta":-62.2,"amp":-38.4},{"theta":-61.3,"amp":-42.1},{"theta":-60.4,"amp":-47.1},{"theta":-59.7,"amp":-52.1},{"theta":-58.8,"amp":-38.4},{"theta":-57.9,"amp":-39.6},{"theta":-57,"amp":-45.2},{"theta":-56.1,"amp":-38.4},{"theta":-55.2,"amp":-36.5},{"theta":-54.3,"amp":-33.6},{"theta":-53.4,"amp":-36.5},{"theta":-52.5,"amp":-42.1},{"theta":-51.6,"amp":-39.6},{"theta":-50.7,"amp":-34},{"theta":-49.8,"amp":-35.9},{"theta":-48.9,"amp":-34.6},{"theta":-47.8,"amp":-37.1},{"theta":-46.7,"amp":-41.5},{"theta":-45.6,"amp":-38.4},{"theta":-44.6,"amp":-34.4},{"theta":-43.5,"amp":-32.1},{"theta":-42.2,"amp":-30.3},{"theta":-41,"amp":-29.6},{"theta":-39.5,"amp":-29},{"theta":-38.1,"amp":-29.4},{"theta":-36.8,"amp":-27.8},{"theta":-35.6,"amp":-26.5},{"theta":-34.1,"amp":-26.1},{"theta":-32.7,"amp":-25.3},{"theta":-31.4,"amp":-25.3},{"theta":-29.6,"amp":-23.4},{"theta":-27.9,"amp":-20.9},{"theta":-26.1,"amp":-19},{"theta":-24.3,"amp":-17.1},{"theta":-22.5,"amp":-15.6},{"theta":-20.1,"amp":-14.9},{"theta":-18,"amp":-13.4},{"theta":-16.2,"amp":-11.5},{"theta":-14,"amp":-8.6},{"theta":-11.7,"amp":-5.9},{"theta":-9,"amp":-2.8},{"theta":-6.3,"amp":-0.9},{"theta":-2.7,"amp":0},{"theta":0,"amp":0},{"theta":3.6,"amp":-0.6},{"theta":7.2,"amp":-3.1},{"theta":10.8,"amp":-6.5},{"theta":14.4,"amp":-10.3},{"theta":18,"amp":-13.4},{"theta":20.7,"amp":-15.3},{"theta":23.4,"amp":-17.8},{"theta":26.1,"amp":-19.9},{"theta":28.4,"amp":-22.8},{"theta":30.5,"amp":-26.5},{"theta":32.7,"amp":-27.8},{"theta":34.1,"amp":-27.1},{"theta":35.9,"amp":-29},{"theta":37.7,"amp":-30.3},{"theta":39.2,"amp":-30.9},{"theta":40.4,"amp":-34.6},{"theta":41.7,"amp":-33.6},{"theta":43.1,"amp":-32.1},{"theta":44.6,"amp":-35.3},{"theta":45.8,"amp":-38.4},{"theta":46.7,"amp":-44},{"theta":47.8,"amp":-37.1},{"theta":48.9,"amp":-32.1},{"theta":50,"amp":-33.4},{"theta":51,"amp":-38.4},{"theta":52.1,"amp":-41.5},{"theta":53.2,"amp":-33.4},{"theta":54.3,"amp":-35.3},{"theta":55.3,"amp":-38.6},{"theta":56.4,"amp":-42.1},{"theta":57.5,"amp":-45.9},{"theta":58.6,"amp":-49},{"theta":59.7,"amp":-45.9},{"theta":60.7,"amp":-44},{"theta":61.8,"amp":-43.4},{"theta":62.9,"amp":-49},{"theta":64,"amp":-54},{"theta":65,"amp":-53.4},{"theta":66.1,"amp":-43.4},{"theta":67.2,"amp":-54},{"theta":68.3,"amp":-53.4},{"theta":69.4,"amp":-49.6},{"theta":70.4,"amp":-42.1},{"theta":71.5,"amp":-40.9},{"theta":72.6,"amp":-43.4},{"theta":73.7,"amp":-52.1},{"theta":74.8,"amp":-54},{"theta":75.8,"amp":-45.9},{"theta":76.9,"amp":-53.4},{"theta":78,"amp":-44.6},{"theta":79.1,"amp":-52.8},{"theta":80.1,"amp":-45.9},{"theta":81.2,"amp":-53.4},{"theta":82.3,"amp":-47.1},{"theta":83.4,"amp":-52.8},{"theta":84.5,"amp":-49.6},{"theta":85.5,"amp":-52.8},{"theta":86.6,"amp":-42.1},{"theta":87.7,"amp":-40.9},{"theta":88.8,"amp":-42.1},{"theta":89.8,"amp":-43.4}
    ],
    "f43_0": [
      {"theta":-90,"amp":-29.6},{"theta":-89.5,"amp":-32.1},{"theta":-88.8,"amp":-29.6},{"theta":-87.7,"amp":-27.8},{"theta":-86.6,"amp":-28.4},{"theta":-85.5,"amp":-26.9},{"theta":-84.5,"amp":-27.1},{"theta":-83.4,"amp":-28.4},{"theta":-82.3,"amp":-26.5},{"theta":-81.2,"amp":-27.8},{"theta":-80,"amp":-26.1},{"theta":-78.7,"amp":-28.4},{"theta":-77.3,"amp":-27.1},{"theta":-75.8,"amp":-25.3},{"theta":-74.4,"amp":-24.6},{"theta":-73,"amp":-25.9},{"theta":-71.5,"amp":-25.3},{"theta":-70.1,"amp":-24.6},{"theta":-68.6,"amp":-24.9},{"theta":-67.2,"amp":-25.9},{"theta":-65.8,"amp":-25.3},{"theta":-64.3,"amp":-25.9},{"theta":-62.9,"amp":-26.5},{"theta":-61.5,"amp":-27.1},{"theta":-60,"amp":-29},{"theta":-58.6,"amp":-30.9},{"theta":-57.1,"amp":-30.3},{"theta":-55.7,"amp":-31.1},{"theta":-54.3,"amp":-32.1},{"theta":-52.8,"amp":-28.4},{"theta":-51.4,"amp":-25.3},{"theta":-50,"amp":-24},{"theta":-48.5,"amp":-20.6},{"theta":-46.7,"amp":-19},{"theta":-44.9,"amp":-17.8},{"theta":-43.1,"amp":-17.1},{"theta":-41.3,"amp":-17.4},{"theta":-39.5,"amp":-17.1},{"theta":-37.7,"amp":-17.8},{"theta":-36.3,"amp":-19},{"theta":-34.9,"amp":-20.9},{"theta":-33.4,"amp":-22.4},{"theta":-32,"amp":-22.8},{"theta":-30.5,"amp":-21.5},{"theta":-29.1,"amp":-19.6},{"theta":-27.7,"amp":-17.1},{"theta":-26.1,"amp":-14.6},{"theta":-24.3,"amp":-12.8},{"theta":-22.5,"amp":-11.5},{"theta":-20.1,"amp":-11.1},{"theta":-18,"amp":-11.5},{"theta":-16.2,"amp":-12.1},{"theta":-14.4,"amp":-10.9},{"theta":-12.6,"amp":-8.4},{"theta":-9.9,"amp":-4.6},{"theta":-7.2,"amp":-2.1},{"theta":-4.5,"amp":-0.6},{"theta":-0.9,"amp":0},{"theta":2.7,"amp":-0.6},{"theta":6.3,"amp":-2.8},{"theta":9.9,"amp":-6.5},{"theta":12.6,"amp":-9.6},{"theta":15.3,"amp":-12.1},{"theta":18,"amp":-11.5},{"theta":20.7,"amp":-10.6},{"theta":23.4,"amp":-11.9},{"theta":26.1,"amp":-14},{"theta":28.8,"amp":-17.8},{"theta":30.9,"amp":-21.5},{"theta":32.7,"amp":-23.6},{"theta":34.5,"amp":-23.4},{"theta":35.9,"amp":-22.1},{"theta":37.4,"amp":-19.9},{"theta":38.8,"amp":-18.1},{"theta":40.4,"amp":-17.4},{"theta":42.2,"amp":-17.8},{"theta":44,"amp":-17.8},{"theta":45.8,"amp":-18.4},{"theta":47.1,"amp":-19.9},{"theta":48.5,"amp":-20.6},{"theta":50,"amp":-22.8},{"theta":51.4,"amp":-25.3},{"theta":52.8,"amp":-26.5},{"theta":54.3,"amp":-29},{"theta":55.7,"amp":-32.1},{"theta":56.8,"amp":-34},{"theta":57.9,"amp":-32.1},{"theta":59.3,"amp":-29},{"theta":60.7,"amp":-27.8},{"theta":62.2,"amp":-26.5},{"theta":63.6,"amp":-25.9},{"theta":65,"amp":-26.1},{"theta":66.5,"amp":-25.9},{"theta":67.9,"amp":-25.3},{"theta":69.4,"amp":-25.9},{"theta":70.8,"amp":-24.6},{"theta":72.2,"amp":-25.9},{"theta":73.7,"amp":-26.9},{"theta":75.1,"amp":-26.1},{"theta":76.5,"amp":-26.9},{"theta":78,"amp":-27.8},{"theta":79.4,"amp":-27.4},{"theta":80.9,"amp":-26.9},{"theta":82.3,"amp":-28.4},{"theta":83.4,"amp":-29.6},{"theta":84.8,"amp":-28.5},{"theta":86.3,"amp":-29},{"theta":87.7,"amp":-30.3},{"theta":88.8,"amp":-29.6},{"theta":89.8,"amp":-29.6}
    ]
  },
  "concat": [
    {
      "title": "F=33GHz",
      "width": 372, "height": 213,
      "encoding": {
        "x": {"field": "theta", "type": "quantitative", "scale": {"domain": [-100, 100], "nice": false}, "axis": {"values": [-100, -50, 0, 50, 100], "title": "Theta/Degree"}},
        "y": {"field": "amp", "type": "quantitative", "scale": {"domain": [-50, 10], "nice": false}, "axis": {"values": [-50, -40, -30, -20, -10, 0, 10], "title": "Amp（dB）"}}
      },
      "layer": [
        {"data": {"name": "f33_90"}, "mark": {"type": "line", "strokeWidth": 2.5},
         "encoding": {"color": {"datum": "Phi=90°", "type": "nominal", "scale": {"domain": ["Phi=90°", "Phi=0°"], "range": ["#4F81BD", "#F79646"]},
           "legend": {"orient": "none", "legendX": 98, "legendY": 293, "direction": "horizontal"}}}},
        {"data": {"name": "f33_0"}, "mark": {"type": "line", "strokeWidth": 2.5},
         "encoding": {"color": {"datum": "Phi=0°", "type": "nominal"}}}
      ]
    },
    {
      "title": "F=35GHz",
      "width": 372, "height": 213,
      "encoding": {
        "x": {"field": "theta", "type": "quantitative", "scale": {"domain": [-100, 100], "nice": false}, "axis": {"values": [-100, -50, 0, 50, 100], "title": "Theta/Degree"}},
        "y": {"field": "amp", "type": "quantitative", "scale": {"domain": [-70, 10], "nice": false}, "axis": {"values": [-70, -60, -50, -40, -30, -20, -10, 0, 10], "title": "Amp（dB）"}}
      },
      "layer": [
        {"data": {"name": "f35_90"}, "mark": {"type": "line", "strokeWidth": 2.5},
         "encoding": {"color": {"datum": "Phi=90°", "type": "nominal", "scale": {"domain": ["Phi=90°", "Phi=0°"], "range": ["#4F81BD", "#F9A865"]},
           "legend": {"orient": "none", "legendX": 101, "legendY": 293, "direction": "horizontal"}}}},
        {"data": {"name": "f35_0"}, "mark": {"type": "line", "strokeWidth": 2.5},
         "encoding": {"color": {"datum": "Phi=0°", "type": "nominal"}}}
      ]
    },
    {
      "title": "F=37GHz",
      "width": 372, "height": 213,
      "encoding": {
        "x": {"field": "theta", "type": "quantitative", "scale": {"domain": [-100, 100], "nice": false}, "axis": {"values": [-100, -50, 0, 50, 100], "title": "Theta/Degree"}},
        "y": {"field": "amp", "type": "quantitative", "scale": {"domain": [-60, 10], "nice": false}, "axis": {"values": [-60, -50, -40, -30, -20, -10, 0, 10], "title": "Amp（dB）"}}
      },
      "layer": [
        {"data": {"name": "f37_90"}, "mark": {"type": "line", "strokeWidth": 2.5},
         "encoding": {"color": {"datum": "Phi=90°", "type": "nominal", "scale": {"domain": ["Phi=90°", "Phi=0°"], "range": ["#4F81BD", "#F79646"]},
           "legend": {"orient": "none", "legendX": 98, "legendY": 293, "direction": "horizontal"}}}},
        {"data": {"name": "f37_0"}, "mark": {"type": "line", "strokeWidth": 2.5},
         "encoding": {"color": {"datum": "Phi=0°", "type": "nominal"}}}
      ]
    },
    {
      "title": "F=39GHz",
      "width": 372, "height": 213,
      "encoding": {
        "x": {"field": "theta", "type": "quantitative", "scale": {"domain": [-100, 100], "nice": false}, "axis": {"values": [-100, -50, 0, 50, 100], "title": "Theta/Degree"}},
        "y": {"field": "amp", "type": "quantitative", "scale": {"domain": [-70, 10], "nice": false}, "axis": {"values": [-70, -60, -50, -40, -30, -20, -10, 0, 10], "title": "Amp（dB）"}}
      },
      "layer": [
        {"data": {"name": "f39_90"}, "mark": {"type": "line", "strokeWidth": 2.5},
         "encoding": {"color": {"datum": "Phi=90°", "type": "nominal", "scale": {"domain": ["Phi=90°", "Phi=0°"], "range": ["#4F81BD", "#F79646"]},
           "legend": {"orient": "none", "legendX": 101, "legendY": 293, "direction": "horizontal"}}}},
        {"data": {"name": "f39_0"}, "mark": {"type": "line", "strokeWidth": 2.5},
         "encoding": {"color": {"datum": "Phi=0°", "type": "nominal"}}}
      ]
    },
    {
      "title": "F=41GHz",
      "width": 372, "height": 213,
      "encoding": {
        "x": {"field": "theta", "type": "quantitative", "scale": {"domain": [-100, 100], "nice": false}, "axis": {"values": [-100, -50, 0, 50, 100], "title": "Theta/Degree"}},
        "y": {"field": "amp", "type": "quantitative", "scale": {"domain": [-60, 10], "nice": false}, "axis": {"values": [-60, -50, -40, -30, -20, -10, 0, 10], "title": "Amp（dB）"}}
      },
      "layer": [
        {"data": {"name": "f41_90"}, "mark": {"type": "line", "strokeWidth": 2.5},
         "encoding": {"color": {"datum": "-85 -54.55146", "type": "nominal", "scale": {"domain": ["-85 -54.55146", "Phi=0°"], "range": ["#4F81BD", "#F79646"]},
           "legend": {"orient": "none", "legendX": 135, "legendY": 284, "direction": "vertical"}}}},
        {"data": {"name": "f41_0"}, "mark": {"type": "line", "strokeWidth": 2.5},
         "encoding": {"color": {"datum": "Phi=0°", "type": "nominal"}}}
      ]
    },
    {
      "title": "F=43GHz",
      "width": 372, "height": 213,
      "encoding": {
        "x": {"field": "theta", "type": "quantitative", "scale": {"domain": [-100, 100], "nice": false}, "axis": {"values": [-100, -50, 0, 50, 100], "title": "Theta/Degree"}},
        "y": {"field": "amp", "type": "quantitative", "scale": {"domain": [-70, 10], "nice": false}, "axis": {"values": [-70, -60, -50, -40, -30, -20, -10, 0, 10], "title": "Amp（dB）"}}
      },
      "layer": [
        {"data": {"name": "f43_90"}, "mark": {"type": "line", "strokeWidth": 2.5},
         "encoding": {"color": {"datum": "Phi=90°", "type": "nominal", "scale": {"domain": ["Phi=90°", "Phi=0°"], "range": ["#4F81BD", "#F79646"]},
           "legend": {"orient": "none", "legendX": 101, "legendY": 290, "direction": "horizontal"}}}},
        {"data": {"name": "f43_0"}, "mark": {"type": "line", "strokeWidth": 2.5},
         "encoding": {"color": {"datum": "Phi=0°", "type": "nominal"}}}
      ]
    }
  ],
  "resolve": {
    "scale": {"color": "independent", "x": "independent", "y": "independent"},
    "legend": {"color": "independent"}
  },
  "config": {
    "font": "Noto Sans",
    "view": {"stroke": "#d9d9d9"},
    "line": {"strokeCap": "round", "strokeJoin": "round"},
    "axis": {
      "gridColor": "#d9d9d9", "gridWidth": 1, "ticks": false, "tickSize": 0, "labelFlush": false,
      "labelExpr": "toString(datum.value)",
      "labelColor": "#595959", "labelFontSize": 12, "labelFont": "Noto Sans",
      "titleColor": "#595959", "titleFontSize": 14, "titleFontWeight": "normal", "titleFont": "Noto Sans"
    },
    "axisX": {"domainColor": "#bfbfbf", "labelPadding": 15, "titlePadding": 16, "labelFlush": false},
    "axisY": {"domain": false, "labelPadding": 10, "titlePadding": 8, "labelFlush": false},
    "title": {"fontSize": 20, "fontWeight": "normal", "color": "#595959", "font": "Noto Sans", "anchor": "middle", "baseline": "alphabetic", "offset": 20},
    "legend": {
      "title": null, "padding": 0, "symbolType": "M-2.5,0H2.5", "symbolSize": 196, "symbolStrokeWidth": 3,
      "labelOffset": 15, "columnPadding": 12, "rowPadding": 1, "labelFontSize": 12, "labelColor": "#595959", "labelFont": "Noto Sans"
    }
  }
}
